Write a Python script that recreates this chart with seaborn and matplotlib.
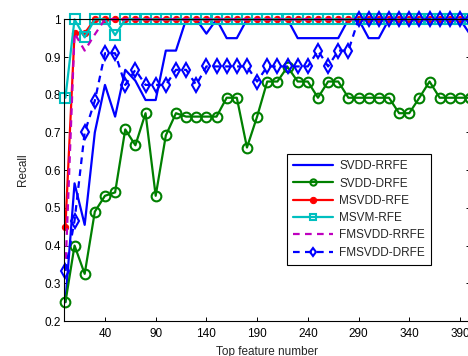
import matplotlib.pyplot as plt
import pandas as pd
import seaborn as sns

# number of top features kept
top_features = [1, 10, 20, 30, 40, 50, 60, 70, 80, 90, 100, 110, 120, 130, 140,
                150, 160, 170, 180, 190, 200, 210, 220, 230, 240, 250, 260, 270,
                280, 290, 300, 310, 320, 330, 340, 350, 360, 370, 380, 390, 400]

svdd_rrfe = [0.25, 0.565, 0.455, 0.70, 0.826, 0.742, 0.866, 0.837, 0.786, 0.786,
             0.917, 0.917, 1, 1, 0.962, 1, 0.95, 0.95, 1, 1, 1, 1, 1, 0.95, 0.95,
             0.95, 0.95, 0.95, 1, 1, 0.95, 0.95, 1, 1, 1, 1, 1, 1, 1, 1, 0.96]
svdd_drfe = [0.25, 0.40, 0.325, 0.49, 0.532, 0.541, 0.708, 0.666, 0.751, 0.532,
             0.692, 0.751, 0.742, 0.742, 0.742, 0.742, 0.792, 0.792, 0.66, 0.742,
             0.835, 0.835, 0.874, 0.835, 0.835, 0.792, 0.835, 0.835, 0.792, 0.792,
             0.792, 0.792, 0.792, 0.751, 0.751, 0.792, 0.835, 0.792, 0.792, 0.792,
             0.792]
msvdd_rfe = [0.45, 0.963, 0.963, 1, 1, 1, 1, 1, 1, 1, 1, 1, 1, 1, 1, 1, 1, 1, 1,
             1, 1, 1, 1, 1, 1, 1, 1, 1, 1, 1, 1, 1, 1, 1, 1, 1, 1, 1, 1, 1, 1]
msvm_rfe = [0.792, 1, 0.952, 1, 1, 0.958, 1, 1, 1, 1, 1, 1, 1, 1, 1, 1, 1, 1, 1,
            1, 1, 1, 1, 1, 1, 1, 1, 1, 1, 1, 1, 1, 1, 1, 1, 1, 1, 1, 1, 1, 1]
fmsvdd_rrfe = [0.333, 0.963, 0.917, 0.96, 1, 1, 1, 1, 1, 1, 1, 1, 1, 1, 1, 1, 1,
               1, 1, 1, 1, 1, 1, 1, 1, 1, 1, 1, 1, 1, 1, 1, 1, 1, 1, 1, 1, 1, 1,
               1, 1]
fmsvdd_drfe = [0.333, 0.466, 0.70, 0.784, 0.91, 0.91, 0.826, 0.866, 0.826, 0.826,
               0.826, 0.866, 0.866, 0.826, 0.875, 0.875, 0.875, 0.875, 0.875,
               0.835, 0.875, 0.875, 0.875, 0.875, 0.875, 0.917, 0.875, 0.917,
               0.917, 1, 1, 1, 1, 1, 1, 1, 1, 1, 1, 1, 1]

names = ['SVDD-RRFE', 'SVDD-DRFE', 'MSVDD-RFE', 'MSVM-RFE', 'FMSVDD-RRFE', 'FMSVDD-DRFE']
x_ticks = [40, 90, 140, 190, 240, 290, 340, 390]
y_ticks = [0.2, 0.3, 0.4, 0.5, 0.6, 0.7, 0.8, 0.9, 1.0]
y_tick_labels = ['0.2', '0.3', '0.4', '0.5', '0.6', '0.7', '0.8', '0.9', '1']

sns.set_style('ticks')
plt.rcParams['font.family'] = ['Liberation Sans', 'DejaVu Sans']
plt.rcParams['xtick.direction'] = 'in'
plt.rcParams['ytick.direction'] = 'in'

df = pd.DataFrame({'x': top_features, names[0]: svdd_rrfe, names[1]: svdd_drfe,
                   names[2]: msvdd_rfe, names[3]: msvm_rfe,
                   names[4]: fmsvdd_rrfe, names[5]: fmsvdd_drfe})

# matlab-like look for each curve
line_kw = {
    'SVDD-RRFE': dict(color='#0000ff', linestyle='-'),
    'SVDD-DRFE': dict(color='#008000', linestyle='-', marker='o', markersize=7,
                      markerfacecolor='none', markeredgewidth=1.5, markeredgecolor='#008000'),
    'MSVDD-RFE': dict(color='#ff0000', linestyle='-', marker='o', markersize=4.5,
                      markeredgecolor='#ff0000'),
    'MSVM-RFE': dict(color='#00bfbf', linestyle='-', marker='s', markersize=6.5,
                     markerfacecolor='none', markeredgewidth=1.5, markeredgecolor='#00bfbf'),
    'FMSVDD-RRFE': dict(color='#bf00bf', linestyle=(0, (3.0, 2.4))),
    'FMSVDD-DRFE': dict(color='#0000ff', linestyle=(0, (3.0, 2.4)), marker='d',
                        markersize=7.5, markerfacecolor='none', markeredgewidth=1.5,
                        markeredgecolor='#0000ff'),
}

fig = plt.figure(figsize=(4.68, 3.56), dpi=100)
ax = fig.add_axes([64.4 / 468, 1 - 321 / 356, (470.1 - 64.4) / 468, (321 - 19.3) / 356])

for name in names:
    sns.lineplot(data=df, x='x', y=name, ax=ax, label=name, linewidth=1.6,
                 clip_on=False, **line_kw[name])

ax.set_xlim(0, 400)
ax.set_ylim(0.2, 1)
ax.set_xticks(x_ticks)
ax.set_yticks(y_ticks)
ax.set_yticklabels(y_tick_labels)
ax.tick_params(axis='both', top=True, right=True, length=3, width=0.7,
               labelsize=8.5, colors='black')
ax.tick_params(axis='x', pad=5)
ax.tick_params(axis='y', pad=2.5)
for sp in ax.spines.values():
    sp.set_color('black')
    sp.set_linewidth(0.8)

ax.set_xlabel('Top feature number', fontsize=8.5, labelpad=4)
ax.set_ylabel('Recall', fontsize=8.5, labelpad=11)

leg = ax.legend(loc='upper left', bbox_to_anchor=(0.549, 0.5525), borderaxespad=0,
                fontsize=8.5, fancybox=False, framealpha=1, edgecolor='black',
                handlelength=3.4, handletextpad=0.5, labelspacing=0.45, borderpad=0.5)
leg.get_frame().set_linewidth(0.8)
for h in leg.legend_handles:
    h.set_markersize(4.5)

fig.savefig('out.png', dpi=100)
